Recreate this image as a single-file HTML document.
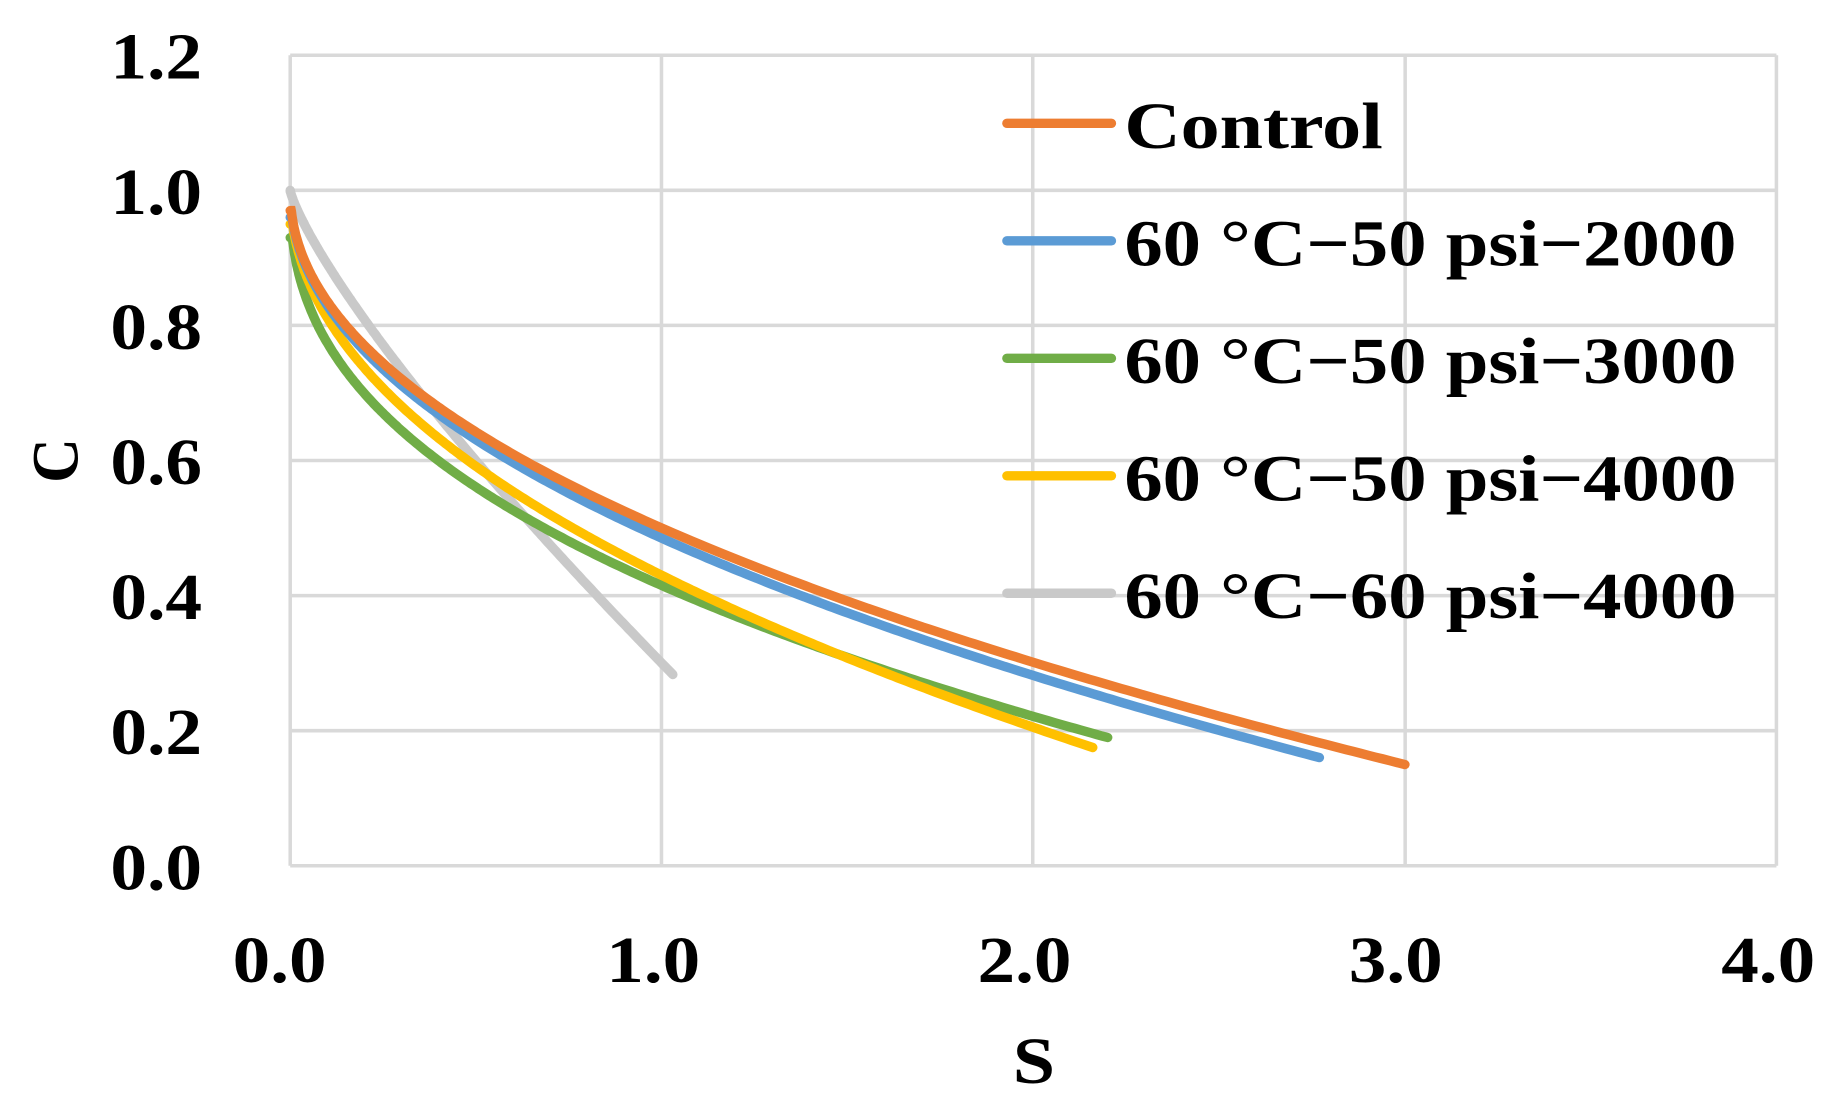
<!DOCTYPE html>
<html><head><meta charset="utf-8"><style>html,body{margin:0;padding:0;background:#fff}svg{display:block}</style></head>
<body>
<svg id="s" width="1834" height="1116" viewBox="0 0 1561 950" preserveAspectRatio="none" xmlns="http://www.w3.org/2000/svg" font-family="Liberation Serif, serif" font-weight="bold">
<rect width="1561" height="950" fill="#fff"/>
<g stroke="#d9d9d9" stroke-width="3" fill="none">
<line x1="247" y1="47" x2="1512" y2="47"/>
<line x1="247" y1="162" x2="1512" y2="162"/>
<line x1="247" y1="277" x2="1512" y2="277"/>
<line x1="247" y1="392" x2="1512" y2="392"/>
<line x1="247" y1="507" x2="1512" y2="507"/>
<line x1="247" y1="622" x2="1512" y2="622"/>
<line x1="247" y1="737" x2="1512" y2="737"/>
<line x1="247" y1="47" x2="247" y2="737"/>
<line x1="563" y1="47" x2="563" y2="737"/>
<line x1="879" y1="47" x2="879" y2="737"/>
<line x1="1196" y1="47" x2="1196" y2="737"/>
<line x1="1512" y1="47" x2="1512" y2="737"/>
</g>
<g font-size="56" fill="#000" lengthAdjust="spacingAndGlyphs">
<text x="94" y="67" textLength="78" lengthAdjust="spacingAndGlyphs">1.2</text>
<text x="94" y="182" textLength="78" lengthAdjust="spacingAndGlyphs">1.0</text>
<text x="94" y="297" textLength="78" lengthAdjust="spacingAndGlyphs">0.8</text>
<text x="94" y="412" textLength="78" lengthAdjust="spacingAndGlyphs">0.6</text>
<text x="94" y="527" textLength="78" lengthAdjust="spacingAndGlyphs">0.4</text>
<text x="94" y="642" textLength="78" lengthAdjust="spacingAndGlyphs">0.2</text>
<text x="94" y="757" textLength="78" lengthAdjust="spacingAndGlyphs">0.0</text>
<text x="198" y="836" textLength="80" lengthAdjust="spacingAndGlyphs">0.0</text>
<text x="516" y="836" textLength="80" lengthAdjust="spacingAndGlyphs">1.0</text>
<text x="832" y="836" textLength="80" lengthAdjust="spacingAndGlyphs">2.0</text>
<text x="1148" y="836" textLength="80" lengthAdjust="spacingAndGlyphs">3.0</text>
<text x="1465" y="836" textLength="80" lengthAdjust="spacingAndGlyphs">4.0</text>
<text x="862" y="922" textLength="36" lengthAdjust="spacingAndGlyphs">S</text>
<text transform="translate(66,411) rotate(-90)" textLength="38" lengthAdjust="spacingAndGlyphs">C</text>
</g>
<g id="curves" fill="none" stroke-width="8" stroke-linecap="round"></g>
<g stroke-width="8" stroke-linecap="round">
<line x1="857" y1="105" x2="946" y2="105" stroke="#ed7d31"/>
<line x1="857" y1="205" x2="946" y2="205" stroke="#5b9bd5"/>
<line x1="857" y1="305" x2="946" y2="305" stroke="#70ad47"/>
<line x1="857" y1="405" x2="946" y2="405" stroke="#ffc000"/>
<line x1="857" y1="505" x2="946" y2="505" stroke="#c9c9c9"/>
</g>
<g font-size="56" fill="#000">
<text x="957" y="126" textLength="220" lengthAdjust="spacingAndGlyphs">Control</text>
<text x="957" y="226" textLength="521" lengthAdjust="spacingAndGlyphs">60 °C−50 psi−2000</text>
<text x="957" y="326" textLength="521" lengthAdjust="spacingAndGlyphs">60 °C−50 psi−3000</text>
<text x="957" y="426" textLength="521" lengthAdjust="spacingAndGlyphs">60 °C−50 psi−4000</text>
<text x="957" y="526" textLength="521" lengthAdjust="spacingAndGlyphs">60 °C−60 psi−4000</text>
</g>
</svg>
<script>
var series=[["#c9c9c9",0.70,0.806,1.03,1.0],["#70ad47",0.585,0.413,2.2,0.93],["#ffc000",0.57,0.48,2.16,0.95],["#5b9bd5",0.515,0.48,2.77,0.96],["#ed7d31",0.5,0.483,3.0,0.97]];
var g=document.getElementById("curves"),d;
series.forEach(function(s){d="";for(var i=0;i<=300;i++){var x=s[3]*Math.pow(i/300,2);var c=1-s[1]*Math.pow(x,s[2]);if(c>s[4])c=s[4];var px=247+x*316.25,py=737-c*575;d+=(i?"L":"M")+px.toFixed(1)+" "+py.toFixed(1);}
var p=document.createElementNS("http://www.w3.org/2000/svg","path");p.setAttribute("d",d);p.setAttribute("stroke",s[0]);g.appendChild(p);});
</script>
</body></html>
